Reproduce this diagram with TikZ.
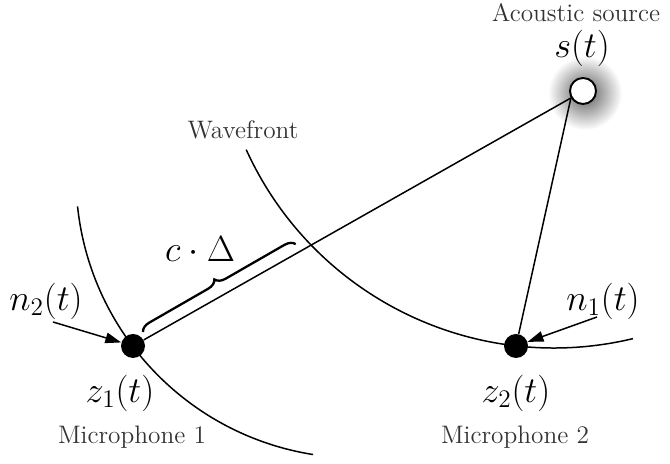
\documentclass[tikz,border=0pt]{standalone}
\usepackage{amsmath}
\usepackage{amssymb}
\usepackage{tikz}
\usetikzlibrary{arrows.meta, positioning, decorations.pathreplacing}

\begin{document}
\begin{tikzpicture}[
        mic/.style={circle, fill=black, minimum size=0.48cm, inner sep=0pt},
        source/.style={circle, draw, fill=white, line width=1.1pt, minimum size=0.52cm, inner sep=0pt},
        ray/.style={line width=0.85pt},
        wave/.style={line width=0.85pt},
        noise/.style={-{Triangle[length=9pt, width=6pt]}, line width=0.85pt},
        brace/.style={decorate, decoration={brace, amplitude=0.2cm}, line width=1.3pt},
        caption/.style={font=\Large, text=black!80},
        sig/.style={font=\huge}
        ]
        \useasboundingbox (0,0) rectangle (13.4,9.28);

        % glow behind the source
        \shade[inner color=black!65, outer color=white] (11.7,7.42) circle (0.74);

        % source and microphones
        \node[source] (src) at (11.66, 7.46) {};
        \node[mic] (m1) at (2.66, 2.36) {};
        \node[mic] (m2) at (10.32, 2.36) {};

        % wavefronts
        \draw[wave] (7.14,5.74) ++(186:5.62) arc[start angle=186, end angle=261, radius=5.62];
        \draw[wave] (11.08,9.08) ++(204.4:6.76) arc[start angle=204.4, end angle=283.5, radius=6.76];

        % paths to the microphones
        \draw[ray] (m1) -- (src.210);
        \draw[ray] (m2) -- (src.210);

        % noise
        \coordinate (n2tail) at (1.06, 2.84);
        \coordinate (n1tail) at (11.94, 2.94);
        \draw[noise] (n2tail) -- (m1);
        \draw[noise] (n1tail) -- (m2);

        % delay
        \coordinate (b1) at (2.86, 2.64);
        \coordinate (b2) at (5.92, 4.40);
        \draw[brace] (b1) -- (b2);
        \node[font=\huge] (cd) at (4.0, 4.3) {$c\cdot\Delta$};

        % labels
        \node[caption] (acs) at (11.52, 9.02) {Acoustic source};
        \node[sig] (s) at (11.64, 8.32) {$s(t)$};
        \node[caption] (wf) at (4.86, 6.68) {Wavefront};
        \node[sig] (n2) at (0.92, 3.26) {$n_2(t)$};
        \node[sig] (n1) at (12.06, 3.26) {$n_1(t)$};
        \node[sig] (z1) at (2.4, 1.42) {$z_1(t)$};
        \node[sig] (z2) at (10.32, 1.42) {$z_2(t)$};
        \node[caption] (mic1) at (2.64, 0.54) {Microphone 1};
        \node[caption] (mic2) at (10.3, 0.54) {Microphone 2};
    \end{tikzpicture}
\end{document}
